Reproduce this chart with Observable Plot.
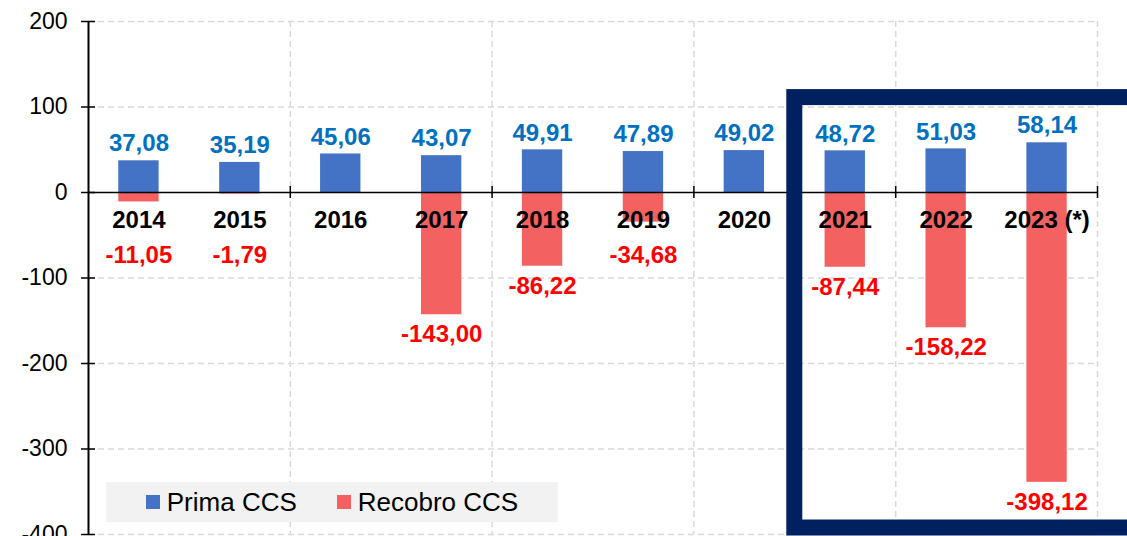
<!DOCTYPE html>
<html><head><meta charset="utf-8">
<script src="https://cdn.jsdelivr.net/npm/d3@7"></script>
<script src="https://cdn.jsdelivr.net/npm/@observablehq/plot@0.6"></script>
<style>
body{margin:0;background:#fff;font-family:"Liberation Sans",Arial,sans-serif;}
#wrap{position:relative;width:1127px;height:536px;overflow:hidden;}
#wrap svg g[aria-label^="y-axis"] text{font-size:23px;fill:#000;}
#legend{position:absolute;left:106px;top:482px;width:452px;height:40px;background:#F2F2F2;display:flex;align-items:center;justify-content:center;gap:40px;font-size:26px;color:#000;z-index:2;}
.item{display:flex;align-items:center;gap:7px}
.sw{width:14px;height:14px;display:inline-block}
</style></head><body>
<div id="wrap"><div id="legend"></div></div>
<script>
// ---- data ----
const years = ["2014","2015","2016","2017","2018","2019","2020","2021","2022","2023 (*)"];
const prima = [37.08, 35.19, 45.06, 43.07, 49.91, 47.89, 49.02, 48.72, 51.03, 58.14];
const recobro = [-11.05, -1.79, null, -143.00, -86.22, -34.68, null, -87.44, -158.22, -398.12];
const seriesNames = ["Prima CCS", "Recobro CCS"];
const yTicks = [-400, -300, -200, -100, 0, 100, 200];
const gridYValues = [-400, -300, -200, -100, 100, 200];
const gridXYears = ["2015","2017","2019","2021","2023 (*)"];
const highlightFrom = "2021";
const highlightTop = 111, highlightBottom = -392.4;
const barFloor = -339;      // the reference cuts the deepest bar short of its value
const labelFloor = -50;     // red labels never sit above this level (clear of the year labels)

const colors = {prima:"#4472C4", recobro:"#F36161", primaText:"#0070C0", recobroText:"#FF0000", navy:"#002060", grid:"#D9D9D9"};
const fmt = v => v.toFixed(2).replace(".", ",");

const primaData = years.map((y,i)=>({year:y, value:prima[i]}));
const recData = years.map((y,i)=>({year:y, value:recobro[i]})).filter(d=>d.value!=null);

const W = 1127, H = 536, mL = 88, mR = 30;
const bw = (W - mL - mR) / years.length;

const chart = Plot.plot({
  width: W, height: H,
  marginLeft: mL, marginRight: mR, marginTop: 21, marginBottom: 2,
  style: {fontFamily: '"Liberation Sans", Arial, sans-serif', fontSize: "23px", color: "#000", background: "#fff", overflow: "visible"},
  x: {domain: years, padding: 0, round: false, axis: null},
  y: {domain: [-400, 200], axis: "left", ticks: yTicks, tickSize: 0, tickPadding: 21, tickFormat: d => String(d), label: null},
  marks: [
    Plot.ruleY(gridYValues, {stroke: colors.grid, strokeWidth: 1.5, strokeDasharray: "6,4"}),
    Plot.ruleX(gridXYears, {dx: bw/2, stroke: colors.grid, strokeWidth: 1.5, strokeDasharray: "6,4"}),
    Plot.barY(primaData, {x: "year", y: "value", fill: colors.prima, insetLeft: bw*0.3, insetRight: bw*0.3}),
    Plot.barY(recData, {x: "year", y: d => Math.max(d.value, barFloor), fill: colors.recobro, insetLeft: bw*0.3, insetRight: bw*0.3}),
    Plot.ruleY([0], {stroke: "#000", strokeWidth: 1.5}),
    Plot.ruleX(gridXYears, {dx: bw/2, y1: -7, y2: 7, stroke: "#000", strokeWidth: 1.5}),
    Plot.ruleX([years[0]], {dx: -bw/2, stroke: "#000", strokeWidth: 2}),
    Plot.ruleY(yTicks, {x1: () => years[0], x2: () => years[0], insetLeft: -7, insetRight: bw - 7, stroke: "#000", strokeWidth: 1.5}),
    Plot.text(years, {x: d => d, y: () => 0, dy: 28, text: d => d, fontSize: 24, fontWeight: "bold", fill: "#000"}),
    Plot.text(primaData, {x: "year", y: "value", dy: -17, text: d => fmt(d.value), fontSize: 24, fontWeight: "bold", fill: colors.primaText}),
    Plot.text(recData, {x: "year", y: d => Math.max(Math.min(d.value, labelFloor), barFloor), dy: 20, text: d => fmt(d.value), fontSize: 24, fontWeight: "bold", fill: colors.recobroText})
  ]
});
document.getElementById("wrap").prepend(chart);

// highlight box positioned through the chart's own scales
const sx = chart.scale("x"), sy = chart.scale("y");
const x0 = sx.apply(highlightFrom);
const yTop = sy.apply(highlightTop), yBot = sy.apply(highlightBottom);
d3.select(chart).append("rect")
  .attr("x", x0).attr("y", yTop)
  .attr("width", W + 20 - x0).attr("height", yBot - yTop)
  .attr("fill", "none").attr("stroke", colors.navy).attr("stroke-width", 16);

const leg = document.getElementById("legend");
[[seriesNames[0], colors.prima], [seriesNames[1], colors.recobro]].forEach(([name, c]) => {
  const it = document.createElement("div"); it.className = "item";
  const sw = document.createElement("span"); sw.className = "sw"; sw.style.background = c;
  const t = document.createElement("span"); t.textContent = name;
  it.append(sw, t); leg.append(it);
});
</script>
</body></html>
